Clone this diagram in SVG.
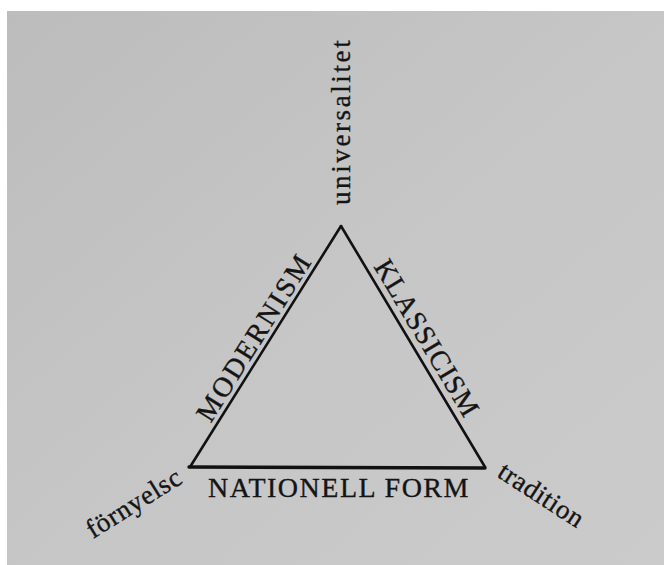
<svg xmlns="http://www.w3.org/2000/svg" width="664" height="565" viewBox="0 0 664 565">
  <defs>
    <linearGradient id="paper" x1="0" y1="0" x2="1" y2="1">
      <stop offset="0" stop-color="#bcbcbc"/>
      <stop offset="0.5" stop-color="#c6c6c6"/>
      <stop offset="1" stop-color="#cbcbcb"/>
    </linearGradient>
  </defs>
  <style>
    .lbl { font-family: "Liberation Serif", "Times New Roman", serif; fill: #141414; stroke: #141414; stroke-width: 0.35px; }
    .caps { font-size: 28px; }
    .low { font-size: 27px; }
    .edge { stroke: #111; fill: none; stroke-linecap: round; stroke-linejoin: miter; }
  </style>
  <rect x="0" y="0" width="664" height="565" fill="#ffffff"/>
  <rect x="7" y="11" width="657" height="554" fill="url(#paper)"/>

  <g id="connectors">
    <path class="edge" d="M341,226 L190,467" stroke-width="2.6"/>
    <path class="edge" d="M341,226 L485,467" stroke-width="2.6"/>
    <path class="edge" d="M189,467 L485,468" stroke-width="3.4"/>
  </g>

  <g id="node-universalitet">
    <text class="lbl low" letter-spacing="2.6" transform="translate(350,205) rotate(-90)">universalitet</text>
  </g>
  <g id="node-fornyelse">
    <text class="lbl low" letter-spacing="0.8" transform="translate(93,539) rotate(-32)">förnyelsc</text>
  </g>
  <g id="node-tradition">
    <text class="lbl low" letter-spacing="0.6" transform="translate(496,476) rotate(33)">tradition</text>
  </g>

  <g id="label-modernism">
    <text class="lbl caps" letter-spacing="2.4" text-anchor="middle" transform="translate(262,342) rotate(-57.9)">MODERNISM</text>
  </g>
  <g id="label-klassicism">
    <text class="lbl caps" letter-spacing="1.2" text-anchor="middle" transform="translate(419,343) rotate(59.1)">KLASSICISM</text>
  </g>
  <g id="label-nationell-form">
    <text class="lbl caps" letter-spacing="1.5" x="339" y="497" text-anchor="middle">NATIONELL FORM</text>
  </g>
</svg>
